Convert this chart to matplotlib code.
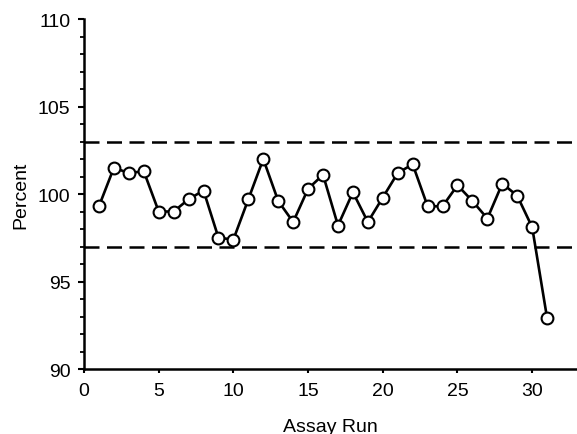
import matplotlib
matplotlib.use('Agg')
import matplotlib.pyplot as plt
import numpy as np
from matplotlib.ticker import MultipleLocator

plt.rcParams['font.family'] = ['Liberation Sans', 'DejaVu Sans']

# data
runs = list(range(1, 32))
percent = [99.3, 101.5, 101.2, 101.3, 99.0, 99.0, 99.7, 100.2, 97.5, 97.4,
           99.7, 102.0, 99.6, 98.4, 100.3, 101.1, 98.2, 100.1, 98.4, 99.8,
           101.2, 101.7, 99.3, 99.3, 100.5, 99.6, 98.6, 100.6, 99.9, 98.1,
           92.9]
upper_limit = 103
lower_limit = 97

fig = plt.figure(figsize=(5.77, 4.35), dpi=100)
ax = fig.add_axes([0.1456, 0.1494, 0.8544, 0.8046])

ax.axhline(upper_limit, color='black', lw=1.8, ls=(0, (6, 3)))
ax.axhline(lower_limit, color='black', lw=1.8, ls=(0, (6, 3)))

ax.plot(runs, percent, color='black', lw=1.9, marker='o', markersize=8.5,
        markerfacecolor='white', markeredgecolor='black', markeredgewidth=1.5,
        zorder=3)

ax.set_xlim(0, 33)
ax.set_ylim(90, 110)
ax.xaxis.set_major_locator(MultipleLocator(5))
ax.yaxis.set_major_locator(MultipleLocator(5))
ax.yaxis.set_minor_locator(MultipleLocator(1))

ax.spines['top'].set_visible(False)
ax.spines['right'].set_visible(False)
ax.spines['left'].set_linewidth(1.8)
ax.spines['bottom'].set_linewidth(1.8)

ax.tick_params(axis='y', which='major', direction='out', length=4.3, width=1.5,
               labelsize=14, pad=5.5)
ax.tick_params(axis='y', which='minor', direction='out', length=2.9, width=1.3)
ax.tick_params(axis='x', which='major', direction='out', length=3, width=1.5,
               labelsize=14, pad=6)

ax.set_ylabel('Percent', fontsize=14, labelpad=6)
ax.set_xlabel('Assay Run', fontsize=14, labelpad=14)

fig.savefig('out.png', dpi=100)
